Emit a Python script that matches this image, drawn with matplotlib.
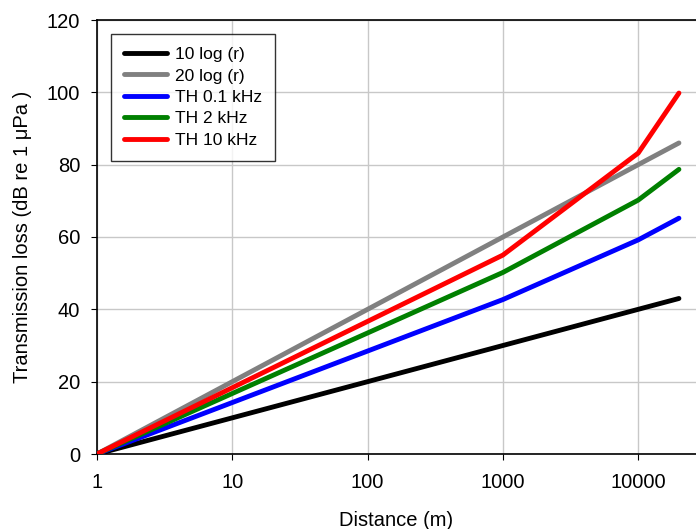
import numpy as np
import matplotlib
matplotlib.use("Agg")
import matplotlib.pyplot as plt

plt.rcParams["font.family"] = ["Liberation Sans", "DejaVu Sans"]

# ── Data ──────────────────────────────────────────────────────────────────────
r_ref   = [1, 10, 100, 1000, 10000, 20000]
tl_10   = [0, 10, 20, 30, 40, 43]
tl_20   = [0, 20, 40, 60, 80, 86]

r_th    = [1, 1000, 10000, 20000]
th_01   = [0, 42.7, 59.2, 65.2]
th_2    = [0, 50.2, 70.2, 78.7]
th_10   = [0, 55.0, 83.2, 99.8]

series = [
    (r_ref, tl_10, "black",   "10 log (r)"),
    (r_ref, tl_20, "#808080", "20 log (r)"),
    (r_th,  th_01, "#0000ff", "TH 0.1 kHz"),
    (r_th,  th_2,  "#008000", "TH 2 kHz"),
    (r_th,  th_10, "#ff0000", "TH 10 kHz"),
]

# ── Plot ──────────────────────────────────────────────────────────────────────
fig = plt.figure(figsize=(6.96, 5.29), dpi=100)
ax = fig.add_axes([97 / 696, 75 / 529, 599 / 696, 434 / 529])

for x, y, c, lab in series:
    ax.plot(x, y, color=c, lw=3.5, label=lab, solid_capstyle="round", zorder=3)

ax.set_xscale("log")
ax.set_xlim(1, 10 ** (599 / 135.3))
ax.set_ylim(0, 120)
ax.set_xticks([1, 10, 100, 1000, 10000])
ax.set_xticklabels(["1", "10", "100", "1000", "10000"])
ax.xaxis.set_minor_locator(matplotlib.ticker.NullLocator())
ax.set_yticks(range(0, 121, 20))
ax.grid(True, color="#c8c8c8", lw=1)
ax.set_axisbelow(True)
ax.spines["right"].set_visible(False)
for s in ["left", "bottom", "top"]:
    ax.spines[s].set_linewidth(1.2)
ax.tick_params(direction="out", length=4, labelsize=14.5)
ax.tick_params(axis="y", pad=8)
ax.tick_params(axis="x", pad=9.5)

ax.set_xlabel("Distance (m)", fontsize=14.5, labelpad=14)
ax.set_ylabel("Transmission loss (dB re 1 μPa )", fontsize=14.5, labelpad=11)

leg = ax.legend(loc="upper left", bbox_to_anchor=(14 / 599, 1 - 14 / 434),
                borderaxespad=0, fontsize=12.5,
                frameon=True, fancybox=False, edgecolor="black",
                handlelength=2.5, handletextpad=0.45, labelspacing=0.36,
                borderpad=0.75)
leg.get_frame().set_linewidth(1)

fig.savefig("out.png", dpi=100)
